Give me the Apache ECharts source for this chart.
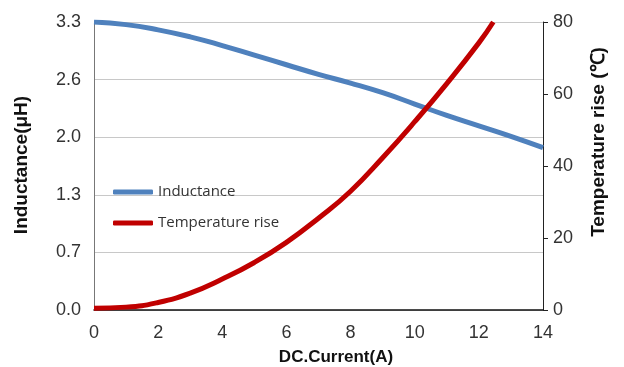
<!DOCTYPE html>
<html>
<head>
<meta charset="utf-8">
<script src="https://cdn.jsdelivr.net/npm/echarts@6/dist/echarts.min.js"></script>
<style>
html,body{margin:0;padding:0;background:#fff;}
#c{width:624px;height:367px;}
</style>
</head>
<body>
<div id="c"></div>
<script>
// DC current (A)
const current = [0, 1, 2, 3, 4, 5, 6, 7, 8, 9, 10, 11, 12, 13, 14];
// Inductance (µH)
const inductance = [3.30, 3.27, 3.21, 3.13, 3.03, 2.92, 2.81, 2.70, 2.60, 2.49, 2.36, 2.23, 2.11, 1.99, 1.86];
// Temperature rise (°C)
const tempCurrent = [0, 1, 2, 3, 4, 5, 6, 7, 8, 9, 10, 11, 12, 12.45];
const tempRise = [0.5, 0.8, 2.1, 4.7, 8.6, 13.2, 18.8, 25.5, 33, 42.3, 52.3, 62.9, 74.2, 80];

const xTicks = [0, 2, 4, 6, 8, 10, 12, 14];
const leftTicks = ['0.0', '0.7', '1.3', '2.0', '2.6', '3.3'];
const rightTicks = [0, 20, 40, 60, 80];

const tickFont = '"Liberation Sans Narrow", "Arial Narrow", "Liberation Sans", Arial, sans-serif';
const titleFont = '"Liberation Sans", Arial, sans-serif';

const chart = echarts.init(document.getElementById('c'), null, {renderer: 'canvas'});
chart.setOption({
  animation: false,
  backgroundColor: '#fff',
  grid: {left: 94, right: 81, top: 22, bottom: 57, containLabel: false},
  legend: {
    orient: 'vertical',
    left: 113, top: 184, padding: 0,
    itemWidth: 40, itemHeight: 5, itemGap: 15,
    icon: 'roundRect',
    textStyle: {fontFamily: '"Open Sans", sans-serif', fontSize: 15, lineHeight: 16, color: '#333'},
    data: ['Inductance', 'Temperature rise']
  },
  xAxis: {
    type: 'value', min: xTicks[0], max: xTicks[xTicks.length - 1], interval: 2,
    axisLine: {show: true, lineStyle: {color: '#111', width: 1.5}},
    axisTick: {show: false},
    splitLine: {show: false},
    axisLabel: {margin: 14, fontFamily: tickFont, fontSize: 18, color: '#333'}
  },
  yAxis: [{
    type: 'value', min: 0, max: 3.3, interval: 0.66,
    axisLine: {show: true, lineStyle: {color: '#777', width: 1}},
    axisTick: {show: false},
    splitLine: {show: true, lineStyle: {color: '#c8c8c8', width: 1}},
    axisLabel: {margin: 13, fontFamily: tickFont, fontSize: 18, color: '#333',
      formatter: (v) => leftTicks[Math.round(v / 0.66)]}
  }, {
    type: 'value', min: rightTicks[0], max: rightTicks[rightTicks.length - 1], interval: 20,
    position: 'right',
    axisLine: {show: true, lineStyle: {color: '#222', width: 1}},
    axisTick: {show: true, inside: false, length: 5, lineStyle: {color: '#222'}},
    splitLine: {show: false},
    axisLabel: {margin: 10, fontFamily: tickFont, fontSize: 18, color: '#333'}
  }],
  graphic: [
    {type: 'text', x: 22, y: 165, rotation: Math.PI / 2,
      style: {text: 'Inductance(μH)', font: 'bold 19px ' + titleFont, fill: '#111', align: 'center', verticalAlign: 'middle'}},
    {type: 'text', x: 599, y: 142, rotation: Math.PI / 2,
      style: {text: 'Temperature rise (℃)', font: 'bold 19px ' + titleFont, fill: '#111', align: 'center', verticalAlign: 'middle'}},
    {type: 'text', x: 336, y: 357,
      style: {text: 'DC.Current(A)', font: 'bold 17px ' + titleFont, fill: '#111', align: 'center', verticalAlign: 'middle'}}
  ],
  series: [{
    name: 'Inductance', type: 'line', yAxisIndex: 0, smooth: true, showSymbol: false,
    lineStyle: {color: '#4f81bd', width: 5}, itemStyle: {color: '#4f81bd'},
    data: current.map((x, i) => [x, inductance[i]])
  }, {
    name: 'Temperature rise', type: 'line', yAxisIndex: 1, smooth: true, showSymbol: false,
    lineStyle: {color: '#c00000', width: 5}, itemStyle: {color: '#c00000'},
    data: tempCurrent.map((x, i) => [x, tempRise[i]])
  }]
});
</script>
</body>
</html>
